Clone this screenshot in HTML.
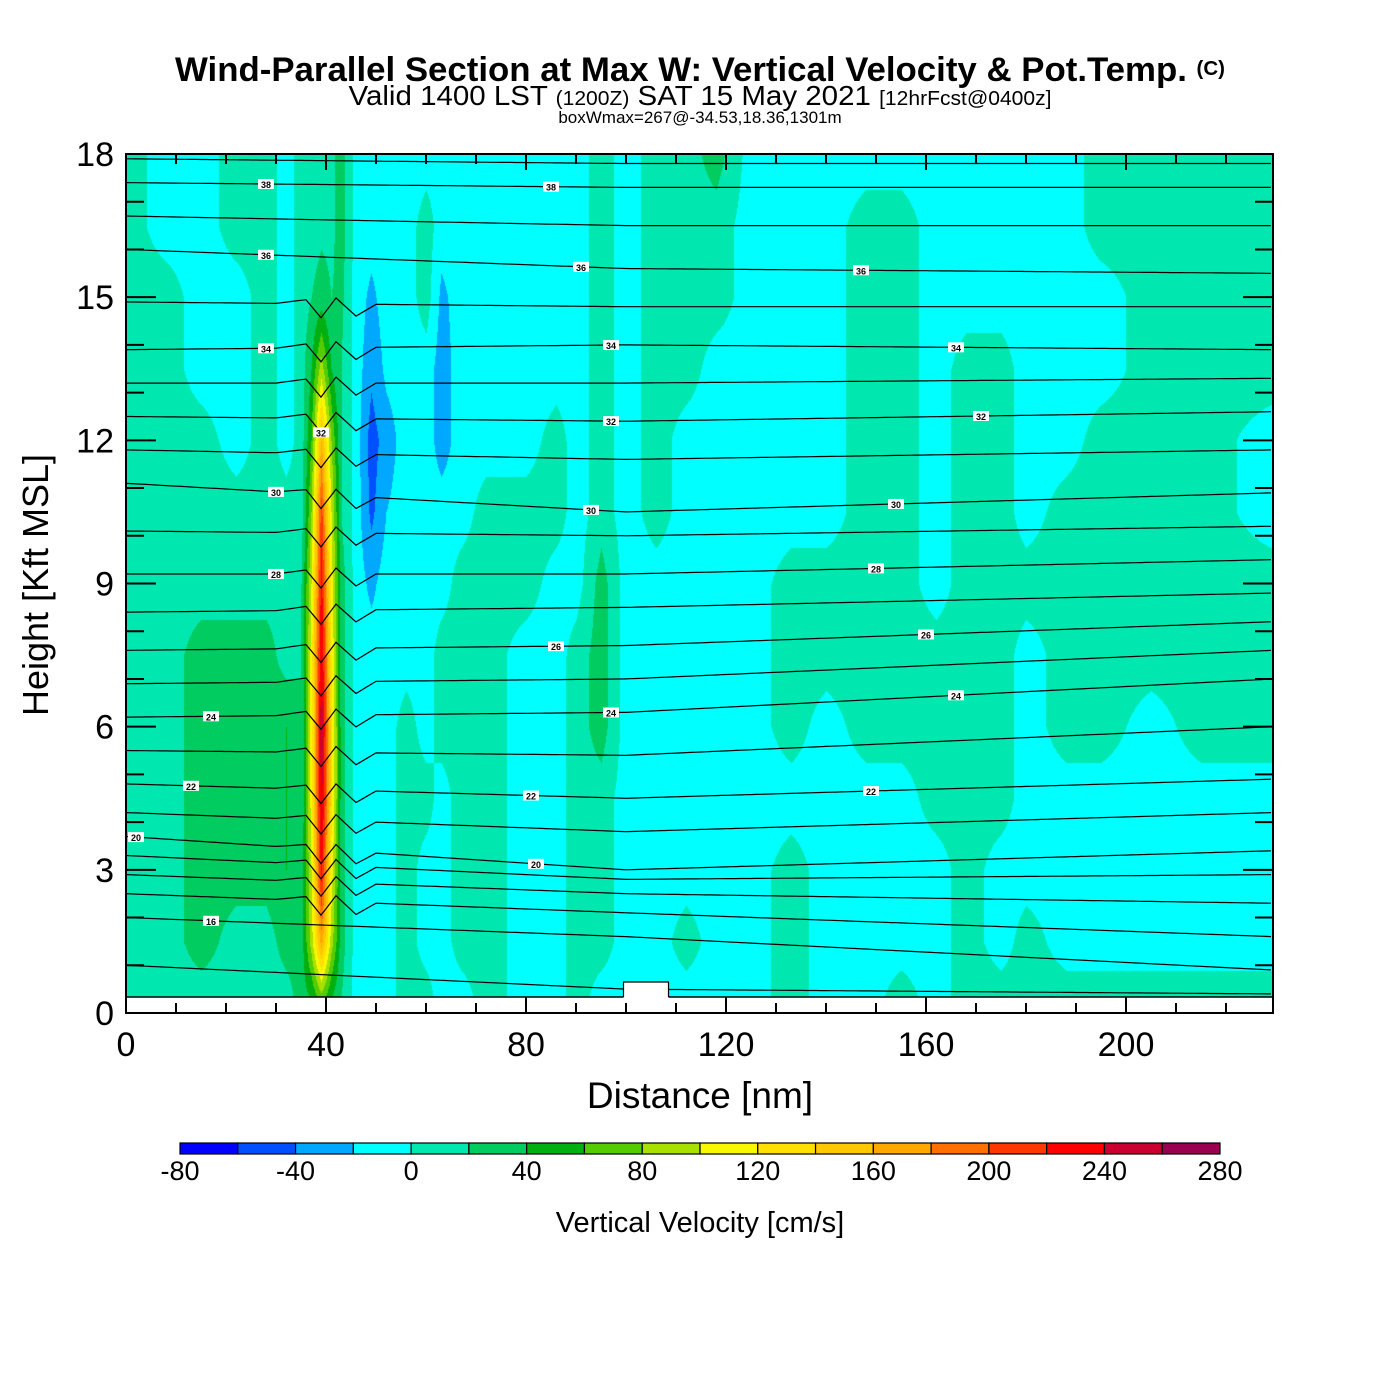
<!DOCTYPE html>
<html><head><meta charset="utf-8"><style>
body{margin:0;background:#fff;width:1400px;height:1400px;overflow:hidden;font-family:"Liberation Sans",sans-serif}
#wrap{position:relative;width:1400px;height:1400px}
canvas{position:absolute;left:126px;top:154px}
svg{position:absolute;left:0;top:0}
</style></head><body><div id="wrap">
<canvas id="cv" width="1147" height="859"></canvas>
<svg id="sv" width="1400" height="1400"></svg>
</div>
<script>
// ---- data ----
const colNm=[0,8,15,22,28,32,35,37,39,41,43,46,49,52,56,60,63,67,72,80,86,90,95,100,106,112,118,125,133,140,148,155,162,168,175,180,188,195,205,215,229];
const rowKft=[18,16.5,15,13.5,12,10.5,9,7.5,6,4.5,3,1.5,0.3];
const w18=[10,-10,-10,10,10,-10,10,10,10,15,30,-10,-10,-10,-10,-10,-10,-10,-10,-10,-10,-10,10,-10,10,10,30,-10,-10,-10,-10,-10,-10,-10,-10,-10,-10,10,10,10,10];
const w165=[10,-10,-10,10,10,-10,10,10,15,15,30,-10,-10,-10,-10,10,-10,-10,-10,-10,-10,-10,10,-10,10,10,10,-10,-10,-10,10,10,-10,-10,-10,-10,-10,10,10,10,10];
const w15=[10,10,-10,-10,10,-10,10,20,30,20,25,-10,-25,-10,-10,10,-25,-10,-10,-10,-10,-10,10,-10,10,10,10,-10,-10,-10,10,10,-10,-10,-10,-10,-10,-10,10,10,10];
const w135=[10,10,-10,-10,10,-10,10,40,90,40,20,-10,-35,-15,-10,-10,-30,-10,-10,-10,-10,-10,10,-10,10,10,-10,-10,-10,-10,10,10,-10,10,10,-10,-10,-10,10,10,10];
const w12=[10,10,10,-10,10,-10,10,60,160,80,20,-10,-50,-30,-10,-10,-30,-10,-10,-10,10,-10,10,-10,10,-10,-10,-10,-10,-10,10,10,-10,10,10,-10,-10,10,10,10,-10];
const w105=[10,10,10,10,10,10,10,80,210,100,20,-10,-45,-20,-10,-10,-10,-10,10,10,10,-10,10,-10,10,-10,-10,-10,-10,-10,10,10,-10,10,10,-10,10,10,10,10,-10];
const w9=[10,10,10,10,10,10,20,100,230,110,30,-10,-25,-10,-10,-10,-10,10,10,10,-10,-10,30,-10,-10,-10,-10,-10,10,10,10,10,-10,10,10,10,10,10,10,10,10];
const w75=[10,10,30,30,30,10,20,110,240,120,30,-10,-10,-10,-10,-10,10,10,10,-10,-10,10,30,-10,-10,-10,-10,-10,10,10,10,10,10,10,10,-10,10,10,10,10,10];
const w6=[10,10,30,30,30,40,20,110,260,130,30,-10,-10,-10,10,-10,10,10,10,-10,-10,10,30,-10,-10,-10,-10,-10,10,-10,10,10,10,10,10,-10,10,10,-10,10,10];
const w45=[10,10,30,30,30,40,20,110,250,130,30,-10,-10,-10,10,10,-10,10,10,-10,-10,10,10,-10,-10,-10,-10,-10,-10,-10,-10,-10,10,10,10,-10,-10,-10,-10,-10,-10];
const w3=[10,10,30,30,30,40,30,100,230,110,30,-10,-10,-10,10,-10,-10,10,10,-10,-10,10,10,-10,-10,-10,-10,-10,10,-10,-10,-10,-10,10,-10,-10,-10,-10,-10,-10,-10];
const w15b=[10,10,30,10,10,30,30,90,170,90,30,-10,-10,-10,10,-10,-10,10,10,-10,-10,10,10,-10,-10,10,-10,-10,10,-10,-10,-10,-10,10,-10,10,-10,-10,-10,-10,-10];
const w03=[10,10,10,10,10,10,30,40,70,40,20,-10,-10,-10,10,10,-10,-10,10,-10,-10,10,-10,-10,-10,-10,-10,-10,10,-10,-10,10,-10,10,10,10,10,10,10,10,10];
const wRows=[w18,w165,w15,w135,w12,w105,w9,w75,w6,w45,w3,w15b,w03];
const thetaLevels=[15,16,17,18,19,20,21,22,23,24,25,26,27,28,29,30,31,32,33,34,35,36,37,38,39];
const thetaLeftKft=[1.0,2.0,2.5,2.9,3.3,3.7,4.2,4.8,5.5,6.2,6.9,7.6,8.4,9.2,10.1,11.1,11.8,12.5,13.2,13.9,14.9,16.0,16.7,17.4,17.9];
const thetaMidKft=[0.5,1.6,2.1,2.5,2.8,3.0,3.8,4.5,5.4,6.3,7.0,7.7,8.5,9.2,10.0,10.5,11.6,12.4,13.2,14.0,14.8,15.6,16.5,17.3,17.8];
const thetaRightKft=[0.4,0.9,1.6,2.3,2.9,3.4,4.2,4.9,6.0,7.0,7.6,8.2,8.8,9.5,10.2,10.9,11.8,12.6,13.3,13.9,14.8,15.5,16.5,17.3,17.8];
const labelLevels=[16,20,22,24,28,30,32,34,36,38,20,22,24,26,30,32,34,36,38,22,24,26,28,30,32,34,36];
const labelNm=[17,2,13,17,30,30,39,28,28,28,82,81,97,86,93,97,97,91,85,149,166,160,150,154,171,166,147];
const cbTicks=[-80,-40,0,40,80,120,160,200,240,280];
const cbColors=["#0000ff","#0050ff","#00a8ff","#00ffff","#00e8b0","#00cc60","#00b010","#55cc00","#a8e000","#f8f800","#ffe000","#ffc800","#ffa800","#ff7000","#ff3800","#ff0000","#cc0030","#990050"];
const xTicks=[0,40,80,120,160,200];
const yTicks=[0,3,6,9,12,15,18];
// ---- scales ----
const X0=126,X1=1273,Y0=1013,Y1=154,XMAX=229.4,YMAX=18;
const sx=v=>X0+v*(X1-X0)/XMAX;
const sy=v=>Y0-v*(Y0-Y1)/YMAX;
function hex(c){return [parseInt(c.substr(1,2),16),parseInt(c.substr(3,2),16),parseInt(c.substr(5,2),16)];}
const rgb=cbColors.map(hex);
// ---- field ----
const cv=document.getElementById('cv'),ctx=cv.getContext('2d');
const W=cv.width,H=cv.height,img=ctx.createImageData(W,H);
function idxBelow(arr,v,desc){for(let i=0;i<arr.length-1;i++){if(desc?(v<=arr[i]&&v>=arr[i+1]):(v>=arr[i]&&v<=arr[i+1]))return i;}return desc?(v>arr[0]?0:arr.length-2):(v<arr[0]?0:arr.length-2);}
for(let py=0;py<H;py++){
  const k=(Y0-(Y1+py))*YMAX/(Y0-Y1);
  const r=idxBelow(rowKft,k,true);
  let ty=(rowKft[r]-k)/(rowKft[r]-rowKft[r+1]);ty=Math.max(0,Math.min(1,ty));
  for(let px=0;px<W;px++){
    const d=px*XMAX/(X1-X0);
    const c=idxBelow(colNm,d,false);
    let tx=(d-colNm[c])/(colNm[c+1]-colNm[c]);tx=Math.max(0,Math.min(1,tx));
    const a=wRows[r][c],b=wRows[r][c+1],e=wRows[r+1][c],f=wRows[r+1][c+1];
    const v=(a*(1-tx)+b*tx)*(1-ty)+(e*(1-tx)+f*tx)*ty;
    let i=Math.floor((v+80)/20);if(i<0)i=0;if(i>17)i=17;
    const o=(py*W+px)*4;img.data[o]=rgb[i][0];img.data[o+1]=rgb[i][1];img.data[o+2]=rgb[i][2];img.data[o+3]=255;
  }
}
ctx.putImageData(img,0,0);
// ---- svg ----
const NS="http://www.w3.org/2000/svg",sv=document.getElementById('sv');
function mk(t,a,p){const e=document.createElementNS(NS,t);for(const k in a)e.setAttribute(k,a[k]);(p||sv).appendChild(e);return e;}
function txt(s,x,y,size,opt){const e=mk('text',Object.assign({x:x,y:y,'font-size':size,'font-family':'Liberation Sans, sans-serif','text-anchor':'middle',fill:'#000'},opt||{}));e.textContent=s;return e;}
// isentropes
const wigNm=[30,36,39,42,46,50],wigPx=[0,-4,14,-6,12,0];
function wiggle(d,lv){if(lv<17||lv>35)return 0;for(let i=0;i<wigNm.length-1;i++){if(d>=wigNm[i]&&d<=wigNm[i+1]){const t=(d-wigNm[i])/(wigNm[i+1]-wigNm[i]);return wigPx[i]*(1-t)+wigPx[i+1]*t;}}return 0;}
function thetaY(li,d){let k;if(d<=100){const t=d/100;k=thetaLeftKft[li]*(1-t)+thetaMidKft[li]*t;}else{const t=(d-100)/(XMAX-100);k=thetaMidKft[li]*(1-t)+thetaRightKft[li]*t;}return sy(k)+wiggle(d,thetaLevels[li]);}
const gTheta=mk('g',{fill:'none',stroke:'#000','stroke-width':1.2});


thetaLevels.forEach((lv,li)=>{let p='';for(let d=0;d<=XMAX;d+=1){const y=Math.min(997,thetaY(li,d));p+=(d?'L':'M')+sx(d).toFixed(1)+','+y.toFixed(1);}
  const e=mk('path',{d:p},gTheta);
  
  });
labelLevels.forEach((lv,i)=>{const li=thetaLevels.indexOf(lv);if(li<0)return;const x=sx(labelNm[i]),y=thetaY(li,labelNm[i]);
  const r=mk('rect',{x:x-8,y:y-5,width:16,height:10,fill:'#fff'});
  
  
  const t=txt(String(lv),x,y+4,9,{'font-weight':'bold'});
  
  });
// ground
mk('rect',{x:X0,y:997,width:X1-X0,height:16,fill:'#fff',stroke:'#000','stroke-width':1.5,});
mk('rect',{x:sx(99.5),y:982,width:sx(108.5)-sx(99.5),height:16,fill:'#fff',});
mk('path',{d:`M${sx(99.5)},997V982H${sx(108.5)}V997`,fill:'none',stroke:'#000','stroke-width':1.2,});
// frame & ticks
mk('rect',{x:X0,y:Y1,width:X1-X0,height:Y0-Y1,fill:'none',stroke:'#000','stroke-width':2,});
const gt=mk('g',{stroke:'#000','stroke-width':2,});
for(let d=10;d<XMAX;d+=10){const maj=d%40===0,L=maj?16:10;const x=sx(d);
  mk('line',{x1:x,y1:Y0,x2:x,y2:Y0-L},gt);mk('line',{x1:x,y1:Y1,x2:x,y2:Y1+L},gt);}
for(let k=1;k<YMAX;k+=1){const maj=k%3===0,L=maj?30:18;const y=sy(k);
  mk('line',{x1:X0,y1:y,x2:X0+L,y2:y},gt);mk('line',{x1:X1,y1:y,x2:X1-L,y2:y},gt);}
xTicks.forEach(v=>{const t=txt(String(v),sx(v),1056,34);});
yTicks.forEach(v=>{const t=txt(String(v),114,sy(v)+12,34,{'text-anchor':'end'});});
txt('Distance [nm]',700,1108,37,{});
txt('Height [Kft MSL]',48,585,36,{transform:'rotate(-90 48 585)',});
// titles
const t1=txt('',700,81,34,{'font-weight':'bold','textLength':1050,'lengthAdjust':'spacingAndGlyphs',});
t1.innerHTML='Wind-Parallel Section at Max W: Vertical Velocity &amp; Pot.Temp. <tspan font-size="20" dy="-6">(C)</tspan>';
const t2=txt('',700,105,28,{'textLength':703,'lengthAdjust':'spacingAndGlyphs',});
t2.innerHTML='Valid 1400 LST <tspan font-size="20">(1200Z)</tspan> SAT 15 May 2021 <tspan font-size="20">[12hrFcst@0400z]</tspan>';
txt('boxWmax=267@-34.53,18.36,1301m',700,123,17,{});
// colorbar
const CB0=180,CB1=1220,cw=(CB1-CB0)/cbColors.length;
const gcb=mk('g',{});
cbColors.forEach((c,i)=>{const r=mk('rect',{x:CB0+i*cw,y:1143,width:cw,height:11,fill:c,stroke:'#000','stroke-width':1.2},gcb);
  
  });
cbTicks.forEach(v=>{const t=txt(String(v),CB0+(v+80)/20*cw,1180,27);});
txt('Vertical Velocity [cm/s]',700,1232,29,{});
</script></body></html>
